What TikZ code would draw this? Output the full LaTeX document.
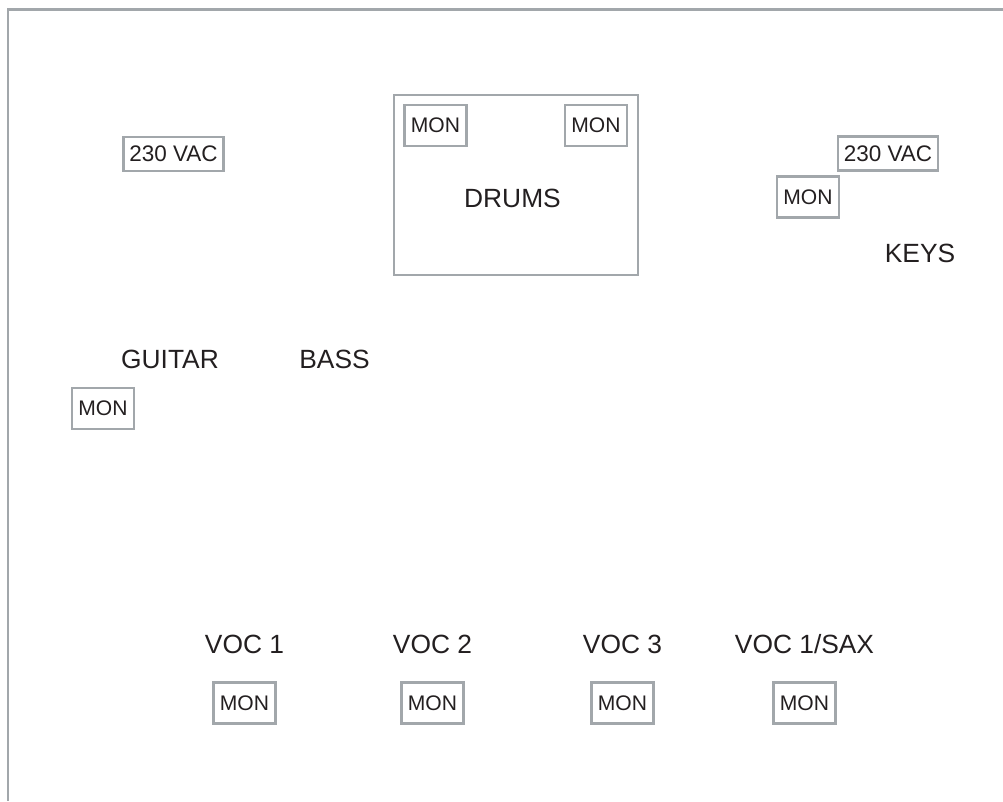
\documentclass[tikz,border=0pt]{standalone}
\usepackage{fontspec}
\setmainfont{Liberation Sans}
\usepackage{tikz}
\usepackage{xcolor}
\usetikzlibrary{positioning}
\definecolor{framegray}{RGB}{162,167,171}
\definecolor{txtblack}{RGB}{35,31,32}

\begin{document}
\begin{tikzpicture}[x=0.02cm,y=-0.02cm,
          mon/.style={draw=framegray,line width=1.4pt,inner sep=0pt,
                      minimum width=62*0.02cm,minimum height=41*0.02cm,
                      text=txtblack,font=\fontsize{12}{12}\selectfont},
          power/.style={draw=framegray,line width=1.4pt,inner sep=0pt,
                        minimum width=100*0.02cm,minimum height=34*0.02cm,
                        text=txtblack,font=\fontsize{12.8}{12.8}\selectfont},
          lbl/.style={text=txtblack,inner sep=0pt,text depth=0pt,
                      text height=10.74pt,font=\fontsize{15}{15}\selectfont}]
        \useasboundingbox (0,0) rectangle (1003,801);
        % stage outline
        \draw[framegray,line width=1.6pt] (8,801) -- (8,9.5) -- (1003,9.5);
        % drum riser
        \node[draw=framegray,line width=1.4pt,minimum width=244*0.02cm,
              minimum height=180*0.02cm](riser) at (516,185){};
        \node[lbl](drums) at (512.5,198.5){DRUMS};
        \node[mon](mondl) at (435.5,125.5){MON};
        \node[mon](mondr) at (596,125.5){MON};
        % power
        \node[power](pwrl) at (173.5,154){230 VAC};
        \node[power](pwrr) at (888,153.5){230 VAC};
        % keys
        \node[mon](monk) at (808,197){MON};
        \node[lbl](keys) at (920,253){KEYS};
        % guitar and bass
        \node[lbl](guitar) at (170,359){GUITAR};
        \node[lbl](bass) at (334.5,359){BASS};
        \node[mon](mong) at (103,408.5){MON};
        % vocals
        \node[lbl](voca) at (244.5,644){VOC 1};
        \node[lbl](vocb) at (432.5,644){VOC 2};
        \node[lbl](vocc) at (622.5,644){VOC 3};
        \node[lbl](vocd) at (804.5,644){VOC 1/SAX};
        \node[mon,below=15.6pt of voca](mona){MON};
        \node[mon,below=15.6pt of vocb](monb){MON};
        \node[mon,below=15.6pt of vocc](monc){MON};
        \node[mon,below=15.6pt of vocd](mond){MON};
      \end{tikzpicture}
\end{document}
